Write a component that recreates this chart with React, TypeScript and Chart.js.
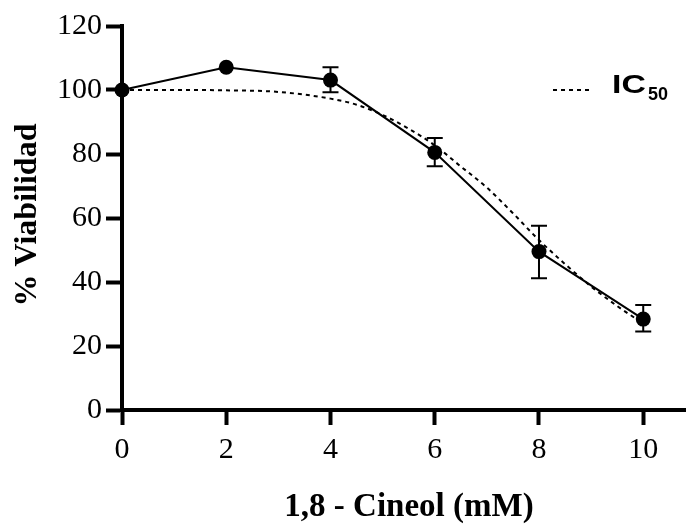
import React, { useEffect, useRef } from "react";
import { Chart, registerables } from "chart.js";

Chart.register(...registerables);

const concentrations = [0, 2, 4, 6, 8, 10];
const viability = [100, 107.1, 103.1, 80.5, 49.5, 28.4];
const errUpper = [100, 107.1, 107.1, 85.0, 57.6, 32.8];
const errLower = [100, 107.1, 99.3, 76.2, 41.2, 24.5];

const fitX = [0, 1, 2, 3, 4, 4.5, 5, 5.5, 6, 6.5, 7, 7.5, 8, 8.5, 9, 9.5, 10];
const fitY = [100, 100, 99.9, 99.4, 97.3, 95.4, 92.2, 87.9, 82.7, 76.1, 69.5, 61.5, 53.1, 45.6, 38.6, 32.5, 27];

const xTicks = [0, 2, 4, 6, 8, 10];
const yTicks = [0, 20, 40, 60, 80, 100, 120];

const xTitle = "1,8 - Cineol (mM)";
const yTitle = "% Viabilidad";
const legendMain = "IC";
const legendSub = "50";

const SERIF = "'Liberation Serif', 'Times New Roman', serif";
const SANS = "'Liberation Sans', Arial, sans-serif";

const overlayPlugin = {
  id: "overlay",
  afterDatasetsDraw(chart: any) {
    const { ctx, scales } = chart;
    const xs = scales.x;
    const ys = scales.y;
    ctx.save();
    // error bars
    ctx.strokeStyle = "#000";
    ctx.lineWidth = 2;
    concentrations.forEach((c, i) => {
      if (errUpper[i] === errLower[i]) return;
      const px = xs.getPixelForValue(c);
      const top = ys.getPixelForValue(errUpper[i]);
      const bot = ys.getPixelForValue(errLower[i]);
      ctx.beginPath();
      ctx.moveTo(px, top);
      ctx.lineTo(px, bot);
      ctx.moveTo(px - 8, top);
      ctx.lineTo(px + 8, top);
      ctx.moveTo(px - 8, bot);
      ctx.lineTo(px + 8, bot);
      ctx.stroke();
    });
    // legend
    const ly = ys.getPixelForValue(100);
    ctx.setLineDash([4, 4]);
    ctx.lineWidth = 2;
    ctx.beginPath();
    ctx.moveTo(553, ly);
    ctx.lineTo(592, ly);
    ctx.stroke();
    ctx.setLineDash([]);
    ctx.fillStyle = "#000";
    ctx.textBaseline = "alphabetic";
    ctx.textAlign = "left";
    ctx.save();
    ctx.translate(612, 93);
    ctx.scale(1.3, 1);
    ctx.font = `bold 26px ${SANS}`;
    ctx.fillText(legendMain, 0, 0);
    ctx.restore();
    ctx.font = `bold 18px ${SANS}`;
    ctx.fillText(legendSub, 648, 100);
    // titles
    ctx.font = `bold 33px ${SERIF}`;
    ctx.textAlign = "center";
    ctx.textBaseline = "alphabetic";
    ctx.fillText(xTitle, 409, 516);
    ctx.font = `bold 32px ${SERIF}`;
    ctx.save();
    ctx.translate(36, 215);
    ctx.rotate(-Math.PI / 2);
    ctx.fillText(yTitle, 0, 0);
    ctx.restore();
    ctx.restore();
  },
};

export default function App() {
  const ref = useRef<HTMLCanvasElement>(null);
  useEffect(() => {
    document.body.style.margin = "0";
    const chart = new Chart(ref.current!, {
      type: "scatter",
      data: {
        datasets: [
          {
            label: "fit",
            data: fitX.map((x, i) => ({ x, y: fitY[i] })),
            showLine: true,
            borderColor: "#000",
            borderWidth: 2,
            borderDash: [4, 4],
            pointRadius: 0,
            cubicInterpolationMode: "monotone",
            clip: false,
          } as any,
          {
            label: "data",
            data: concentrations.map((x, i) => ({ x, y: viability[i] })),
            showLine: true,
            borderColor: "#000",
            borderWidth: 2,
            backgroundColor: "#000",
            pointRadius: 7.5,
            pointBackgroundColor: "#000",
            pointBorderWidth: 0,
            clip: false,
          } as any,
        ],
      },
      options: {
        responsive: false,
        animation: false,
        layout: { padding: { top: 26, left: 0, right: 0, bottom: 0 } },
        plugins: { legend: { display: false }, tooltip: { enabled: false } },
        scales: {
          x: {
            type: "linear",
            min: 0,
            max: 10.83,
            afterBuildTicks: (s: any) => {
              s.ticks = xTicks.map((v) => ({ value: v }));
            },
            afterFit: (s: any) => {
              s.height = 114;
            },
            border: { display: true, color: "#000", width: 4 },
            grid: {
              display: true,
              drawOnChartArea: false,
              drawTicks: true,
              tickLength: 15,
              tickWidth: 4,
              tickColor: "#000",
            },
            ticks: {
              color: "#000",
              font: { family: SERIF, size: 30 },
              padding: 7,
              maxRotation: 0,
            },
          },
          y: {
            type: "linear",
            min: 0,
            max: 120,
            afterBuildTicks: (s: any) => {
              s.ticks = yTicks.map((v) => ({ value: v }));
            },
            afterFit: (s: any) => {
              s.width = 122;
            },
            border: { display: true, color: "#000", width: 4 },
            grid: {
              display: true,
              drawOnChartArea: false,
              drawTicks: true,
              tickLength: 16,
              tickWidth: 4,
              tickColor: "#000",
            },
            ticks: {
              color: "#000",
              font: { family: SERIF, size: 30 },
              padding: 4,
            },
          },
        },
      },
      plugins: [overlayPlugin],
    });
    return () => chart.destroy();
  }, []);
  return (
    <div
      style={{
        position: "absolute",
        left: 0,
        top: 0,
        width: 686,
        height: 524,
        overflow: "hidden",
        background: "#fff",
      }}
    >
      <canvas ref={ref} width={694} height={524} style={{ display: "block" }} />
    </div>
  );
}
